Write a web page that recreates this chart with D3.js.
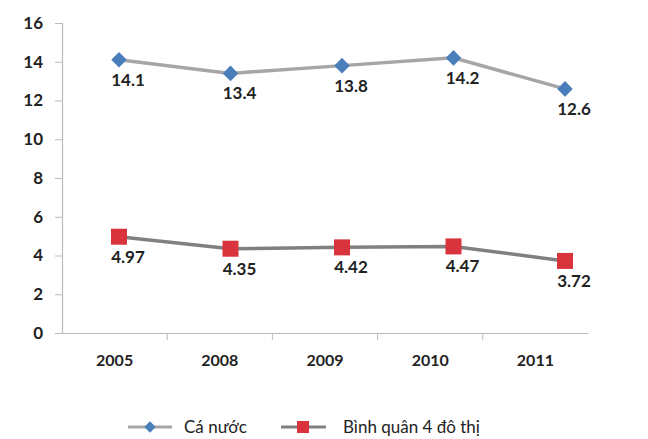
<!DOCTYPE html>
<html><head><meta charset="utf-8">
<script src="https://cdn.jsdelivr.net/npm/d3@7"></script>
<style>body{margin:0;background:#fff}svg{display:block}text{font-family:Lato,"Open Sans",sans-serif;fill:#111}</style>
</head><body><svg id="c" width="648" height="439"></svg>
<script>
const categories = ["2005","2008","2009","2010","2011"];
const caNuoc = [14.1, 13.4, 13.8, 14.2, 12.6];
const binhQuan = [4.97, 4.35, 4.42, 4.47, 3.72];
const yTicks = [0,2,4,6,8,10,12,14,16];
const seriesNames = ["Cá nước","Bình quân 4 đô thị"];

const svg = d3.select("#c");
const mLeft = 62, mRight = 588, mTop = 23, mBottom = 333;
const y = d3.scaleLinear().domain([0,16]).range([mBottom, mTop]);
const xb = d3.scaleBand().domain(categories).range([mLeft, mRight]);
const xp = d3.scalePoint().domain(categories).range([119, 565]);

// y axis
const ya = svg.append("g").attr("transform",`translate(${mLeft},0)`)
  .call(d3.axisLeft(y).tickValues(yTicks).tickSize(7).tickPadding(12));
ya.select(".domain").attr("stroke","#bbb").attr("stroke-width",1.2);
ya.selectAll(".tick line").attr("stroke","#bbb");
ya.selectAll(".tick text").attr("font-size",17).attr("font-weight","bold").style("fill","#222");

// x axis
const xa = svg.append("g").attr("transform",`translate(0,${mBottom})`)
  .call(d3.axisBottom(xb).tickSize(0).tickPadding(22));
xa.select(".domain").attr("stroke","#bbb").attr("stroke-width",1.2);
xa.selectAll(".tick text").attr("font-size",16).attr("font-weight","bold").style("fill","#222");
xa.selectAll(".sep").data(categories.slice(1)).enter().append("line")
  .attr("x1",d=>xb(d)).attr("x2",d=>xb(d)).attr("y1",0).attr("y2",7).attr("stroke","#bbb");

const line = d3.line().x((d,i)=>xp(categories[i])).y(d=>y(d));
svg.append("path").datum(caNuoc).attr("d",line).attr("fill","none").attr("stroke","#a6a6a6").attr("stroke-width",3.5);
svg.append("path").datum(binhQuan).attr("d",line).attr("fill","none").attr("stroke","#808080").attr("stroke-width",3.5);

svg.selectAll(".dm").data(caNuoc).enter().append("rect")
  .attr("x",-5.5).attr("y",-5.5).attr("width",11).attr("height",11)
  .attr("fill","#4a7ebb")
  .attr("transform",(d,i)=>`translate(${xp(categories[i])},${y(d)}) rotate(45)`);
svg.selectAll(".sq").data(binhQuan).enter().append("rect")
  .attr("x",(d,i)=>xp(categories[i])-8).attr("y",d=>y(d)-8).attr("width",16).attr("height",16)
  .attr("fill","#d9343e");

svg.selectAll(".l1").data(caNuoc).enter().append("text")
  .attr("x",(d,i)=>xp(categories[i])+9).attr("y",d=>y(d)+26)
  .attr("text-anchor","middle").attr("font-size",17).attr("font-weight","bold").style("fill","#222")
  .text(d=>d.toFixed(1));
svg.selectAll(".l2").data(binhQuan).enter().append("text")
  .attr("x",(d,i)=>xp(categories[i])+9).attr("y",d=>y(d)+26)
  .attr("text-anchor","middle").attr("font-size",17).attr("font-weight","bold").style("fill","#222")
  .text(d=>d.toFixed(2));

// legend
const lg = svg.append("g").attr("transform","translate(0,427)");
lg.append("line").attr("x1",128).attr("x2",172).attr("y1",0).attr("y2",0).attr("stroke","#a6a6a6").attr("stroke-width",3);
lg.append("rect").attr("x",-4).attr("y",-4).attr("width",8).attr("height",8).attr("fill","#4a7ebb").attr("transform","translate(150,0) rotate(45)");
lg.append("text").attr("x",184).attr("y",6).attr("font-size",17).style("fill","#222").text(seriesNames[0]);
lg.append("line").attr("x1",281).attr("x2",326).attr("y1",0).attr("y2",0).attr("stroke","#808080").attr("stroke-width",3);
lg.append("rect").attr("x",297).attr("y",-6).attr("width",12).attr("height",12).attr("fill","#d9343e");
lg.append("text").attr("x",343).attr("y",6).attr("font-size",17).style("fill","#222").text(seriesNames[1]);
</script></body></html>
